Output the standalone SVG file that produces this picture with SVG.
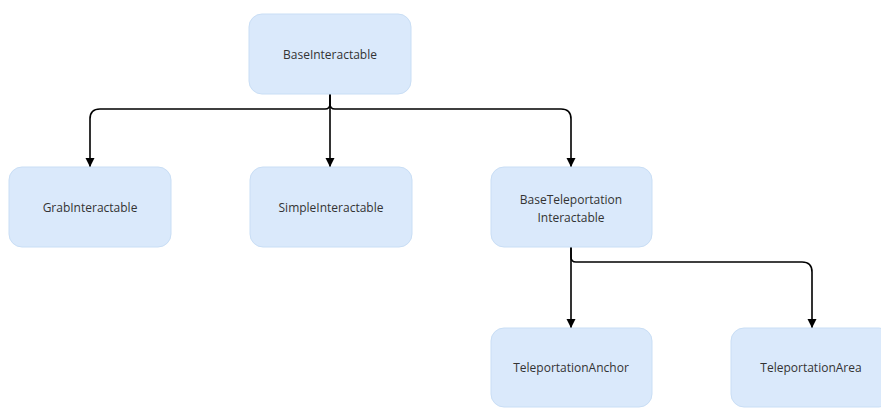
<svg xmlns="http://www.w3.org/2000/svg" width="881" height="408" viewBox="0 0 881 408">
<defs>
<marker id="arr" markerWidth="10" markerHeight="10" refX="9" refY="5" orient="auto" markerUnits="userSpaceOnUse"><path d="M0,0.5 L9,5 L0,9.5 Z" fill="#000"/></marker>
<style>
.node{fill:#dae9fb;stroke:#c9def5;stroke-width:1}
.lbl{font-family:"Open Sans","Liberation Sans",sans-serif;font-size:12px;fill:#333;text-anchor:middle}
.edge{fill:none;stroke:#000;stroke-width:1.6}
</style>
</defs>
<rect width="881" height="408" fill="#fff"/>
<g id="connectors">
<path class="edge" d="M330,94 V104 Q330,109 325,109 H100 Q90,109 90,119 V167" marker-end="url(#arr)"/>
<path class="edge" d="M330,94 V167" marker-end="url(#arr)"/>
<path class="edge" d="M330,94 V104 Q330,109 335,109 H561 Q571,109 571,119 V167" marker-end="url(#arr)"/>
<path class="edge" d="M571,247 V328" marker-end="url(#arr)"/>
<path class="edge" d="M571,247 V257 Q571,262 576,262 H802 Q812,262 812,272 V328" marker-end="url(#arr)"/>
</g>
<g id="BaseInteractable"><rect class="node" x="249" y="14" width="162" height="80" rx="13"/><text class="lbl" x="330" y="59">BaseInteractable</text></g>
<g id="GrabInteractable"><rect class="node" x="9" y="167" width="162" height="80" rx="13"/><text class="lbl" x="90" y="212">GrabInteractable</text></g>
<g id="SimpleInteractable"><rect class="node" x="250" y="167" width="162" height="80" rx="13"/><text class="lbl" x="331" y="212">SimpleInteractable</text></g>
<g id="BaseTeleportationInteractable"><rect class="node" x="491" y="167" width="161" height="80" rx="13"/><text class="lbl" x="571" y="204">BaseTeleportation</text><text class="lbl" x="571" y="222">Interactable</text></g>
<g id="TeleportationAnchor"><rect class="node" x="491" y="328" width="161" height="79" rx="13"/><text class="lbl" x="571" y="372">TeleportationAnchor</text></g>
<g id="TeleportationArea"><rect class="node" x="731" y="328" width="161" height="79" rx="13"/><text class="lbl" x="811" y="372">TeleportationArea</text></g>
</svg>
